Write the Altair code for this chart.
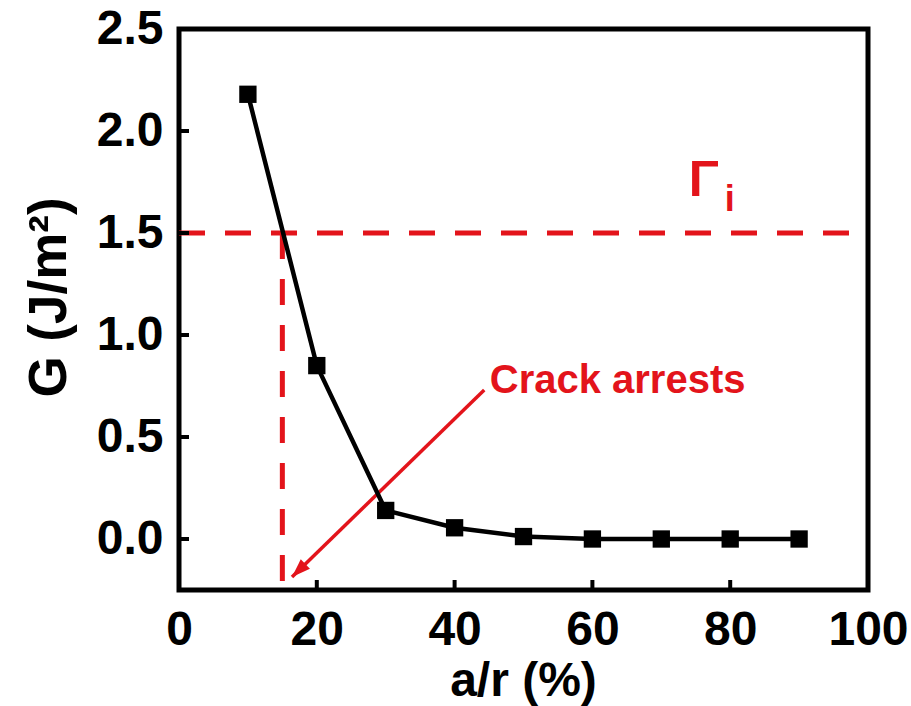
import altair as alt
import pandas as pd

# Energy release rate G versus relative crack length a/r
a_r = [10, 20, 30, 40, 50, 60, 70, 80, 90]
g_vals = [2.18, 0.85, 0.14, 0.055, 0.012, 0.0, 0.0, 0.0, 0.0]

x_ticks = [0, 20, 40, 60, 80, 100]
y_ticks = [0.0, 0.5, 1.0, 1.5, 2.0, 2.5]

# Critical energy release rate and the crack-arrest length
gamma_i = 1.5
arrest_x = 15

# Arrow annotation: start (near the label) and tip
arrow_start = [44.3, 0.73]
arrow_tip = [16.4, -0.186]
label_pos = [45.1, 0.714]
gamma_pos = [74.0, 1.68]
sub_pos = [79.2, 1.61]

RED = "#e3141b"
FONT = "Liberation Sans"
X_DOMAIN = [0, 100]
Y_DOMAIN = [-0.25, 2.5]

xs = alt.Scale(domain=X_DOMAIN, nice=False, zero=False)
ys = alt.Scale(domain=Y_DOMAIN, nice=False, zero=False)

df = pd.DataFrame({"ar": a_r, "G": g_vals})

x_axis = alt.Axis(
    values=x_ticks, format="d", grid=False, domain=False, ticks=False,
    labelFont=FONT, labelFontWeight="bold", labelFontSize=48, labelColor="black",
    labelPadding=16, labelFlush=False,
    title="a/r (%)", titleFont=FONT, titleFontWeight="bold", titleFontSize=48,
    titleColor="black", titleX=344, titleY=105, titleBaseline="alphabetic",
)
y_axis = alt.Axis(
    values=y_ticks, format=".1f", grid=False, domain=False, ticks=False,
    labelFont=FONT, labelFontWeight="bold", labelFontSize=48, labelColor="black",
    labelPadding=16, labelFlush=False,
    title="G (J/m²)", titleFont=FONT, titleFontWeight="bold", titleFontSize=53,
    titleColor="black", titleX=-114, titleY=268, titleAngle=-90,
    titleBaseline="alphabetic", titleAlign="center",
)

base = alt.Chart(df)

curve = base.mark_line(color="black", strokeWidth=4.5).encode(
    x=alt.X("ar:Q", scale=xs, axis=x_axis),
    y=alt.Y("G:Q", scale=ys, axis=y_axis),
)
squares = base.mark_point(shape="square", filled=True, size=300, color="black", opacity=1).encode(
    x=alt.X("ar:Q", scale=xs),
    y=alt.Y("G:Q", scale=ys),
)

# Inward tick marks
xt = alt.Chart(pd.DataFrame({"t": x_ticks})).mark_rule(color="black", strokeWidth=4).encode(
    x=alt.X("t:Q", scale=xs),
    y=alt.value(561),
    y2=alt.value(551),
)
yt = alt.Chart(pd.DataFrame({"t": y_ticks})).mark_rule(color="black", strokeWidth=4).encode(
    y=alt.Y("t:Q", scale=ys),
    x=alt.value(0),
    x2=alt.value(10),
)

# Critical level (horizontal) and arrest position (vertical) dashed lines
hline = alt.Chart(pd.DataFrame({"x": [X_DOMAIN[0]], "x2": [98], "y": [gamma_i]})).mark_rule(
    color=RED, strokeWidth=5, strokeDash=[26, 20]
).encode(x=alt.X("x:Q", scale=xs), x2="x2:Q", y=alt.Y("y:Q", scale=ys))

vline = alt.Chart(pd.DataFrame({"x": [arrest_x], "y": [gamma_i], "y2": [Y_DOMAIN[0]]})).mark_rule(
    color=RED, strokeWidth=5, strokeDash=[26, 20]
).encode(x=alt.X("x:Q", scale=xs), y=alt.Y("y:Q", scale=ys), y2="y2:Q")

# Arrow pointing at the arrest position
arrow_df = pd.DataFrame({
    "x": [arrow_start[0]], "y": [arrow_start[1]],
    "x2": [arrow_tip[0]], "y2": [arrow_tip[1]],
})
arrow_line = alt.Chart(arrow_df).mark_rule(color=RED, strokeWidth=3.5).encode(
    x=alt.X("x:Q", scale=xs), y=alt.Y("y:Q", scale=ys), x2="x2:Q", y2="y2:Q",
)
arrow_head = alt.Chart(pd.DataFrame({"x": [arrow_tip[0]], "y": [arrow_tip[1]]})).mark_point(
    shape="M0,0L0.6,1.7L-0.6,1.7Z", filled=True, size=480, color=RED, opacity=1,
    angle=225.8, strokeWidth=0,
).encode(x=alt.X("x:Q", scale=xs), y=alt.Y("y:Q", scale=ys))

label = alt.Chart(pd.DataFrame({"x": [label_pos[0]], "y": [label_pos[1]], "t": ["Crack arrests"]})).mark_text(
    align="left", baseline="alphabetic", font=FONT, fontWeight="bold", fontSize=40, color=RED,
).encode(x=alt.X("x:Q", scale=xs), y=alt.Y("y:Q", scale=ys), text="t:N")

gamma = alt.Chart(pd.DataFrame({"x": [gamma_pos[0]], "y": [gamma_pos[1]], "t": ["Γ"]})).mark_text(
    align="left", baseline="alphabetic", font=FONT, fontWeight="bold", fontSize=50, color=RED,
).encode(x=alt.X("x:Q", scale=xs), y=alt.Y("y:Q", scale=ys), text="t:N")

gamma_sub = alt.Chart(pd.DataFrame({"x": [sub_pos[0]], "y": [sub_pos[1]], "t": ["i"]})).mark_text(
    align="left", baseline="alphabetic", font=FONT, fontWeight="bold", fontSize=36, color=RED,
).encode(x=alt.X("x:Q", scale=xs), y=alt.Y("y:Q", scale=ys), text="t:N")

chart = alt.layer(
    hline, vline, arrow_line, arrow_head, curve, squares, xt, yt, label, gamma, gamma_sub
).properties(
    width=689, height=561,
    autosize=alt.AutoSizeParams(type="none"),
    padding={"left": 179, "top": 29, "right": 43, "bottom": 116},
).configure(
    background="white",
).configure_view(
    stroke="black", strokeWidth=5, fill="white",
)

chart.save("out.html", embed_options={"renderer": "svg", "actions": False})
